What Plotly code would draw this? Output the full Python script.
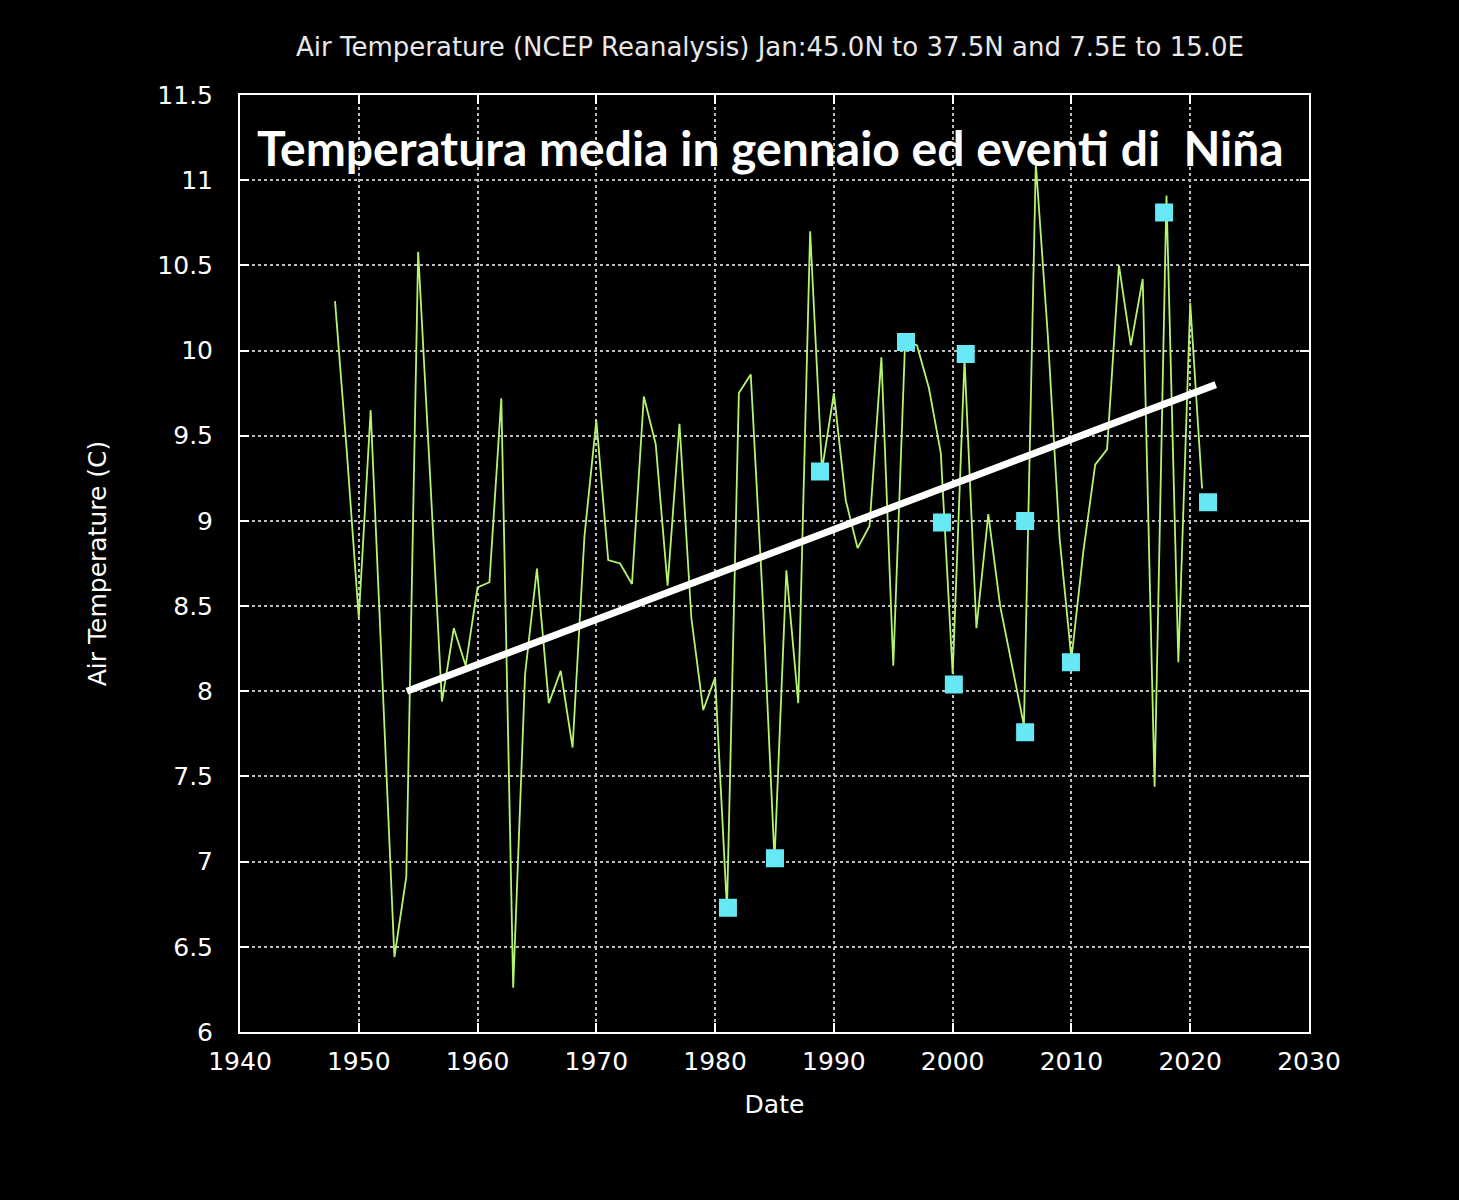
import plotly.graph_objects as go

years = list(range(1948, 2022))
temps = [10.29, 9.4, 8.43, 9.65, 8.05, 6.44, 6.91, 10.58, 9.27, 7.94,
         8.37, 8.15, 8.61, 8.64, 9.72, 6.26, 8.1, 8.72, 7.93, 8.12,
         7.67, 8.91, 9.59, 8.77, 8.75, 8.63, 9.73, 9.45, 8.62, 9.57,
         8.43, 7.89, 8.08, 6.72, 9.75, 9.86, 8.55, 7.01, 8.71, 7.93,
         10.7, 9.3, 9.75, 9.12, 8.84, 8.97, 9.96, 8.15, 10.06, 10.03,
         9.78, 9.4, 8.1, 9.95, 8.37, 9.04, 8.5, 8.15, 7.8, 11.1,
         10.1, 8.9, 8.19, 8.82, 9.33, 9.42, 10.5, 10.03, 10.42, 7.44,
         10.91, 8.17, 10.28, 9.19]

nina_x = [1981.08, 1985.04, 1988.83, 1996.07, 1999.1, 2000.1, 2001.1,
          2006.1, 2006.1, 2009.96, 2017.8, 2021.5]
nina_y = [6.73, 7.02, 9.29, 10.05, 8.99, 8.04, 9.98, 9.0, 7.76, 8.17, 10.81, 9.11]

trend_x = [1954.05, 2022.15]
trend_y = [8.0, 9.8]

x_ticks = [1940, 1950, 1960, 1970, 1980, 1990, 2000, 2010, 2020, 2030]
y_ticks = [6, 6.5, 7, 7.5, 8, 8.5, 9, 9.5, 10, 10.5, 11, 11.5]

fig = go.Figure()
fig.add_trace(go.Scatter(x=years, y=temps, mode="lines",
                         line=dict(color="#b4f56e", width=1.8),
                         showlegend=False))
fig.add_trace(go.Scatter(x=trend_x, y=trend_y, mode="lines",
                         line=dict(color="white", width=7),
                         showlegend=False))
fig.add_trace(go.Scatter(x=nina_x, y=nina_y, mode="markers",
                         marker=dict(symbol="square", size=15, color="#66e8f5",
                                     line=dict(color="#66e8f5", width=3)),
                         showlegend=False))

axis_common = dict(
    showline=True, linecolor="white", linewidth=2, mirror="ticks",
    ticks="inside", ticklen=9, tickwidth=2, tickcolor="white",
    showgrid=True, gridcolor="#bbbbbb", griddash="dot", gridwidth=1.5,
    zeroline=False, tickfont=dict(family="DejaVu Sans", size=25, color="white"),
    automargin=False,
)

fig.update_xaxes(range=[1940, 2030], tickvals=x_ticks, ticktext=[str(v) for v in x_ticks],
                 ticklabelstandoff=6,
                 title=dict(text="Date", font=dict(family="DejaVu Sans", size=25, color="white"),
                            standoff=20),
                 **axis_common)
fig.update_yaxes(range=[6, 11.5], tickvals=y_ticks, ticktext=[f"{v:g}" for v in y_ticks],
                 ticklabelstandoff=20,
                 title=dict(text="Air Temperature (C)",
                            font=dict(family="DejaVu Sans", size=25, color="white"),
                            standoff=44),
                 **axis_common)

fig.update_layout(
    width=1459, height=1200,
    paper_bgcolor="black", plot_bgcolor="black",
    margin=dict(l=240, r=150, t=95, b=168),
    title=dict(text="Air Temperature (NCEP Reanalysis) Jan:45.0N to 37.5N and 7.5E to 15.0E",
               font=dict(family="DejaVu Sans", size=26, color="#e8e8e8"),
               x=770/1459, xanchor="center", xref="container",
               y=1-47/1200, yanchor="middle", yref="container"),
    annotations=[dict(text="<b>Temperatura media in gennaio ed eventi di  Niña</b>",
                      x=(770-240)/1069, y=(1032-147)/937, xref="paper", yref="paper",
                      xanchor="center", yanchor="middle", showarrow=False,
                      font=dict(family="Lato", size=48, color="white"))],
)

fig.write_html("out.html")
